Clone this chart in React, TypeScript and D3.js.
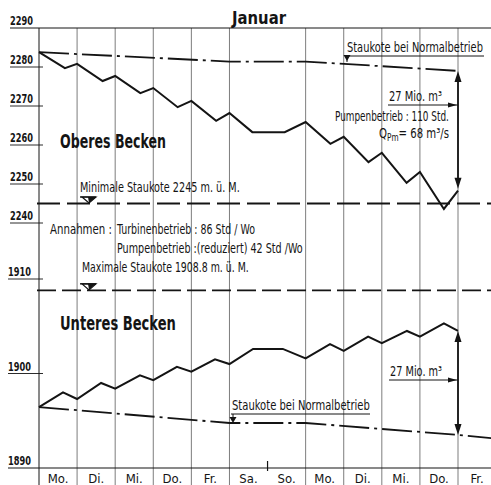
import React, { useLayoutEffect, useRef, useState } from "react";
import * as d3 from "d3";

// ---- data ----
const dayLabels = ["Mo.", "Di.", "Mi.", "Do.", "Fr.", "Sa.", "So.", "Mo.", "Di.", "Mi.", "Do.", "Fr."];
const upperTicks = [2290, 2280, 2270, 2260, 2250, 2240];
const lowerTicks = [1910, 1900, 1890];

const upperDays = [0, 0.68, 1, 1.67, 2, 2.66, 3, 3.64, 4, 4.65, 5, 5.6, 6.45, 7, 7.65, 8, 8.65, 9, 9.65, 10, 10.63, 11];
const upperLevels = [2283.8, 2279.7, 2280.8, 2276.4, 2277.7, 2273.3, 2274.6, 2269.7, 2271.3, 2266.2, 2268.2, 2263.3, 2263.3, 2265.9, 2260.3, 2262.1, 2255.6, 2258.0, 2250.3, 2253.1, 2243.6, 2248.3];

const lowerDays = [0, 0.63, 1, 1.63, 2, 2.65, 3, 3.62, 4, 4.62, 5, 5.62, 6.4, 7, 7.64, 8, 8.64, 9, 9.66, 10, 10.63, 11];
const lowerLevels = [1896.45, 1898.0, 1897.3, 1899.0, 1898.4, 1899.8, 1899.3, 1900.7, 1900.2, 1901.5, 1901.0, 1902.6, 1902.6, 1901.6, 1903.1, 1902.4, 1903.9, 1903.2, 1904.5, 1903.9, 1905.3, 1904.5];

const upperNormalDays = [0, 5, 7, 11];
const upperNormalLevels = [2283.8, 2281.4, 2281.4, 2279.0];
const lowerNormalDays = [0, 5, 7, 11, 11.9];
const lowerNormalLevels = [1896.45, 1894.76, 1894.76, 1893.5, 1893.15];

const minStaukote = 2245;
const maxStaukote = 1908.8;

const W = 491;
const H = 485;
const FONT = "'DejaVu Sans Condensed', 'Liberation Sans Narrow', 'DejaVu Sans', sans-serif";
const INK = "#141414";

// text squeezed horizontally to a target width (condensed stencil look)
function CText(props: { x: number; y: number; w: number; size: number; bold?: boolean; children: React.ReactNode }) {
  const ref = useRef<SVGTextElement>(null);
  const [k, setK] = useState(1);
  useLayoutEffect(() => {
    if (ref.current) {
      const len = ref.current.getComputedTextLength();
      if (len > 0) setK(props.w / len);
    }
  }, [props.w, props.size]);
  return (
    <g transform={`translate(${props.x},${props.y}) scale(${k},1)`}>
      <text ref={ref} x={0} y={0} fontSize={props.size} fontWeight={props.bold ? "bold" : "normal"} fill={INK}>
        {props.children}
      </text>
    </g>
  );
}

export default function App() {
  const x = d3.scaleLinear().domain([0, 11]).range([39, 458]);
  const yU = d3.scaleLinear().domain([2240, 2290]).range([223, 28]);
  const yL = d3.scaleLinear().domain([1890, 1910]).range([468, 279]);

  const upperLine = d3.line<number>().x((_, i) => x(upperDays[i])).y((v) => yU(v));
  const lowerLine = d3.line<number>().x((_, i) => x(lowerDays[i])).y((v) => yL(v));
  const upperNormal = d3.line<number>().x((_, i) => x(upperNormalDays[i])).y((v) => yU(v));
  const lowerNormal = d3.line<number>().x((_, i) => x(lowerNormalDays[i])).y((v) => yL(v));

  const x11 = x(11);
  const uTop = yU(upperNormalLevels[3]);
  const uBot = yU(upperLevels[upperLevels.length - 1]);
  const lTop = yL(lowerLevels[lowerLevels.length - 1]);
  const lBot = yL(lowerNormalLevels[3]);

  const arrowUp = (cx: number, tip: number) => `M${cx},${tip} L${cx - 3.5},${tip + 11} L${cx + 3.5},${tip + 11} Z`;
  const arrowDown = (cx: number, tip: number) => `M${cx},${tip} L${cx - 3.5},${tip - 11} L${cx + 3.5},${tip - 11} Z`;
  const arrowRight = (tipX: number, cy: number) => `M${tipX},${cy} L${tipX - 9},${cy - 2.5} L${tipX - 9},${cy + 2.5} Z`;

  const staukoteSym = (cx: number, cy: number) => (
    <g>
      <path d={`M${cx - 7},${cy - 6} L${cx + 7},${cy - 6} L${cx},${cy} Z`} fill="#fff" stroke={INK} strokeWidth={1.2} />
      <path d={`M${cx - 1},${cy - 6} L${cx + 7},${cy - 6} L${cx},${cy} Z`} fill={INK} />
      <line x1={cx - 9} x2={cx + 7} y1={cy - 6} y2={cy - 6} stroke={INK} strokeWidth={1.4} />
    </g>
  );

  const gridDays = d3.range(1, 12).filter((d) => d !== 6);
  const FS = 14.5;

  return (
    <div style={{ position: "absolute", left: 0, top: 0 }}>
      <svg width={W} height={H} style={{ display: "block", background: "#fff" }} fontFamily={FONT}>
        <rect width={W} height={H} fill="#fff" />
        {/* grid */}
        {gridDays.map((d) => (
          <line key={d} x1={x(d)} x2={x(d)} y1={28} y2={H} stroke="#454545" strokeWidth={0.7} />
        ))}
        <line x1={x(6)} x2={x(6)} y1={461} y2={471} stroke={INK} strokeWidth={1.2} />
        <line x1={x(0)} x2={x(0)} y1={28} y2={H} stroke={INK} strokeWidth={1} />
        <line x1={10} x2={W} y1={28} y2={28} stroke={INK} strokeWidth={1} />
        <line x1={8} x2={W} y1={yL(1890)} y2={yL(1890)} stroke={INK} strokeWidth={1.1} />

        {/* y ticks */}
        {upperTicks.map((t) => (
          <g key={t}>
            {t !== 2290 && <line x1={10} x2={43} y1={yU(t)} y2={yU(t)} stroke={INK} strokeWidth={0.9} />}
            <CText x={10} y={yU(t) - 3} w={23} size={12.5} bold>{t}</CText>
          </g>
        ))}
        {lowerTicks.map((t) => (
          <g key={t}>
            {t !== 1890 && <line x1={8} x2={43} y1={yL(t)} y2={yL(t)} stroke={INK} strokeWidth={0.9} />}
            <CText x={8} y={yL(t) - 3} w={23} size={12.5} bold>{t}</CText>
          </g>
        ))}

        {/* day labels */}
        {dayLabels.map((l, i) => (
          <text key={i} x={x(i + 0.5)} y={483} fontSize={13} textAnchor="middle" fill={INK}>{l}</text>
        ))}

        {/* title */}
        <CText x={232} y={24} w={54} size={18} bold>Januar</CText>

        {/* staukote dashed lines */}
        <line x1={37} x2={W} y1={yU(minStaukote)} y2={yU(minStaukote)} stroke={INK} strokeWidth={1.8} strokeDasharray="23 7" />
        <line x1={37} x2={W} y1={yL(maxStaukote)} y2={yL(maxStaukote)} stroke={INK} strokeWidth={1.8} strokeDasharray="19 6" />

        {/* normal operation dash-dot */}
        <path d={upperNormal(upperNormalLevels) ?? ""} fill="none" stroke={INK} strokeWidth={1.8} strokeDasharray="30 5 3 5" />
        <path d={lowerNormal(lowerNormalLevels) ?? ""} fill="none" stroke={INK} strokeWidth={1.8} strokeDasharray="30 5 3 5" />

        {/* curves */}
        <path d={upperLine(upperLevels) ?? ""} fill="none" stroke={INK} strokeWidth={2} strokeLinejoin="miter" />
        <path d={lowerLine(lowerLevels) ?? ""} fill="none" stroke={INK} strokeWidth={2} strokeLinejoin="miter" />

        {/* upper volume arrow */}
        <line x1={x11} x2={x11} y1={uTop + 6} y2={uBot - 6} stroke={INK} strokeWidth={1.8} />
        <path d={arrowUp(x11, uTop)} fill={INK} />
        <path d={arrowDown(x11, uBot - 2)} fill={INK} />
        <line x1={388} x2={x11} y1={105} y2={105} stroke={INK} strokeWidth={1} />
        <path d={arrowRight(x11 - 1, 105)} fill={INK} />
        <CText x={389} y={101} w={53} size={FS}>27 Mio. m³</CText>
        <CText x={335} y={121} w={114} size={FS}>Pumpenbetrieb : 110 Std.</CText>
        <CText x={379} y={138} w={70} size={FS}>
          <tspan>Q</tspan>
          <tspan fontSize={10.5} dy={3}>Pm</tspan>
          <tspan dy={-3}>= 68 m³/s</tspan>
        </CText>

        {/* upper Staukote label */}
        <CText x={347} y={52} w={136} size={FS}>Staukote bei Normalbetrieb</CText>
        <line x1={346} x2={484} y1={56} y2={56} stroke={INK} strokeWidth={1} />
        <line x1={347} x2={347} y1={56} y2={62} stroke={INK} strokeWidth={1} />
        <path d={`M${347},${yU(2281.55)} L${343.5},${yU(2281.55) - 6} L${350.5},${yU(2281.55) - 6} Z`} fill={INK} />

        {/* labels */}
        <CText x={60} y={148} w={106} size={19.5} bold>Oberes Becken</CText>
        <CText x={80} y={192} w={160} size={FS}>Minimale Staukote 2245 m. ü. M.</CText>
        {staukoteSym(89, yU(minStaukote) - 0.5)}
        <CText x={50} y={234} w={62} size={FS}>Annahmen :</CText>
        <CText x={117} y={234} w={138} size={FS}>Turbinenbetrieb : 86 Std / Wo</CText>
        <CText x={117} y={253} w={186} size={FS}>Pumpenbetrieb :(reduziert) 42 Std /Wo</CText>
        <CText x={82} y={272} w={167} size={FS}>Maximale Staukote 1908.8 m. ü. M.</CText>
        {staukoteSym(89, yL(maxStaukote) - 0.5)}
        <CText x={60} y={330} w={116} size={19.5} bold>Unteres Becken</CText>

        {/* lower Staukote label */}
        <CText x={232} y={410} w={138} size={FS}>Staukote bei Normalbetrieb</CText>
        <line x1={231} x2={370} y1={414} y2={414} stroke={INK} strokeWidth={1} />
        <line x1={233} x2={233} y1={414} y2={418} stroke={INK} strokeWidth={1} />
        <path d={`M${233},${yL(1894.76)} L${229.5},${yL(1894.76) - 6} L${236.5},${yL(1894.76) - 6} Z`} fill={INK} />

        {/* lower volume arrow */}
        <line x1={x11} x2={x11} y1={lTop + 6} y2={lBot - 6} stroke={INK} strokeWidth={1.8} />
        <path d={arrowUp(x11, lTop)} fill={INK} />
        <path d={arrowDown(x11, lBot)} fill={INK} />
        <line x1={389} x2={x11} y1={380} y2={380} stroke={INK} strokeWidth={1} />
        <path d={arrowRight(x11 - 1, 380)} fill={INK} />
        <CText x={390} y={376} w={52} size={FS}>27 Mio. m³</CText>
      </svg>
    </div>
  );
}
